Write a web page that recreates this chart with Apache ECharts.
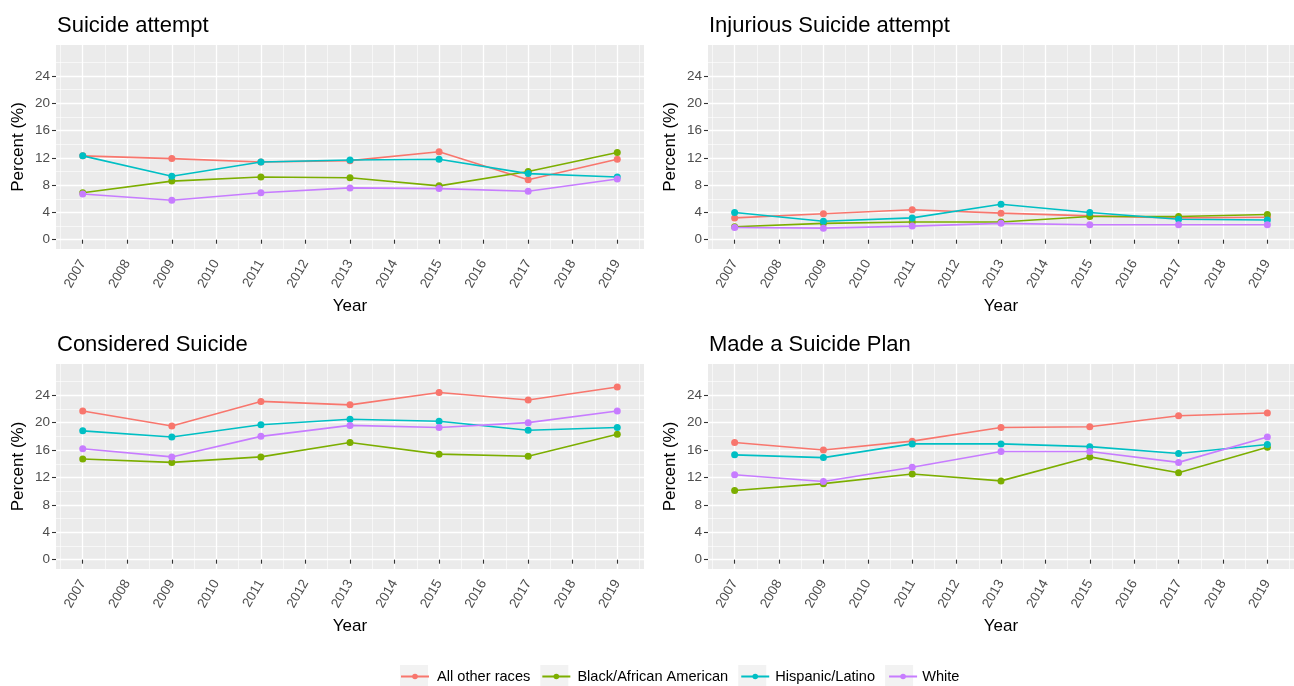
<!DOCTYPE html>
<html><head><meta charset="utf-8">
<script src="https://cdn.jsdelivr.net/npm/echarts@6/dist/echarts.min.js"></script>
<style>html,body{margin:0;padding:0;background:#fff}#c{width:1294px;height:686px}</style>
</head><body><div id="c"></div>
<script>
// ---- data ----
const years = [2007, 2009, 2011, 2013, 2015, 2017, 2019];
const yearTicks = [2007, 2008, 2009, 2010, 2011, 2012, 2013, 2014, 2015, 2016, 2017, 2018, 2019];
const yearMinor = [2006.5, 2007.5, 2008.5, 2009.5, 2010.5, 2011.5, 2012.5, 2013.5, 2014.5, 2015.5, 2016.5, 2017.5, 2018.5, 2019.5];
const percentTicks = [0, 4, 8, 12, 16, 20, 24];
const percentMinor = [2, 6, 10, 14, 18, 22, 26];
const groups = ['All other races', 'Black/African American', 'Hispanic/Latino', 'White'];
const colors = ['#F8766D', '#7CAE00', '#00BFC4', '#C77CFF'];
const panelTitles = ['Suicide attempt', 'Injurious Suicide attempt', 'Considered Suicide', 'Made a Suicide Plan'];

const attemptOther    = [12.3, 11.9, 11.4, 11.6, 12.9, 8.8, 11.8];
const attemptBlack    = [6.9, 8.6, 9.2, 9.1, 7.9, 10.0, 12.8];
const attemptHispanic = [12.3, 9.3, 11.4, 11.7, 11.8, 9.7, 9.2];
const attemptWhite    = [6.7, 5.8, 6.9, 7.6, 7.5, 7.1, 8.9];

const injuriousOther    = [3.2, 3.8, 4.4, 3.9, 3.5, 3.2, 3.3];
const injuriousBlack    = [1.9, 2.4, 2.6, 2.6, 3.4, 3.4, 3.7];
const injuriousHispanic = [4.0, 2.7, 3.2, 5.2, 4.0, 3.0, 2.9];
const injuriousWhite    = [1.8, 1.7, 2.0, 2.4, 2.2, 2.2, 2.2];

const consideredOther    = [21.7, 19.5, 23.1, 22.6, 24.4, 23.3, 25.2];
const consideredBlack    = [14.7, 14.2, 15.0, 17.1, 15.4, 15.1, 18.3];
const consideredHispanic = [18.8, 17.9, 19.7, 20.5, 20.2, 18.9, 19.3];
const consideredWhite    = [16.2, 15.0, 18.0, 19.6, 19.3, 20.0, 21.7];

const planOther    = [17.1, 16.0, 17.3, 19.3, 19.4, 21.0, 21.4];
const planBlack    = [10.1, 11.1, 12.5, 11.5, 15.0, 12.7, 16.4];
const planHispanic = [15.3, 14.9, 16.9, 16.9, 16.5, 15.5, 16.8];
const planWhite    = [12.4, 11.4, 13.5, 15.8, 15.8, 14.2, 17.9];

const panelData = [
  [attemptOther, attemptBlack, attemptHispanic, attemptWhite],
  [injuriousOther, injuriousBlack, injuriousHispanic, injuriousWhite],
  [consideredOther, consideredBlack, consideredHispanic, consideredWhite],
  [planOther, planBlack, planHispanic, planWhite]
];

// ---- layout ----
const FONT = 'Liberation Sans, Arial, sans-serif';
const grids = [
  {left: 56, top: 45, width: 588, height: 204},
  {left: 708, top: 45, width: 588, height: 204},
  {left: 56, top: 364, width: 588, height: 205},
  {left: 708, top: 364, width: 588, height: 205}
];
const X_MIN = 2006.4, X_MAX = 2019.6, Y_MIN = -1.36, Y_MAX = 28.56;

const xAxes = [], yAxes = [], series = [], titles = [];
grids.forEach((g, p) => {
  xAxes.push({
    type: 'value', gridIndex: p, min: X_MIN, max: X_MAX,
    name: 'Year', nameLocation: 'middle', nameGap: 49,
    nameTextStyle: {fontSize: 17, color: '#000', fontFamily: FONT},
    axisLine: {show: false},
    axisTick: {show: true, length: 4, customValues: yearTicks, lineStyle: {color: '#333', width: 1.1}},
    axisLabel: {show: true, customValues: yearTicks, rotate: 60, margin: 12, fontSize: 13.5, color: '#4D4D4D', fontFamily: FONT, formatter: v => String(v)},
    splitLine: {show: true, lineStyle: {color: '#fff', width: 1.3}},
    minorSplitLine: {show: false}
  });
  xAxes.push({
    type: 'value', gridIndex: p, min: X_MIN, max: X_MAX, position: 'bottom',
    axisLine: {show: false},
    axisTick: {show: false, customValues: yearMinor},
    axisLabel: {show: false, customValues: yearMinor},
    splitLine: {show: true, lineStyle: {color: '#fff', width: 0.6}}
  });
  yAxes.push({
    type: 'value', gridIndex: p, min: Y_MIN, max: Y_MAX,
    name: 'Percent (%)', nameLocation: 'middle', nameGap: 29, nameRotate: 90,
    nameTextStyle: {fontSize: 17, color: '#000', fontFamily: FONT},
    axisLine: {show: false},
    axisTick: {show: true, length: 4, customValues: percentTicks, lineStyle: {color: '#333', width: 1.1}},
    axisLabel: {show: true, customValues: percentTicks, margin: 6, fontSize: 13.5, color: '#4D4D4D', fontFamily: FONT},
    splitLine: {show: true, lineStyle: {color: '#fff', width: 1.3}}
  });
  yAxes.push({
    type: 'value', gridIndex: p, min: Y_MIN, max: Y_MAX, position: 'left',
    axisLine: {show: false},
    axisTick: {show: false, customValues: percentMinor},
    axisLabel: {show: false, customValues: percentMinor},
    splitLine: {show: true, lineStyle: {color: '#fff', width: 0.6}}
  });
  titles.push({
    text: panelTitles[p], left: g.left - 4, top: g.top - 35,
    textStyle: {fontSize: 22, fontWeight: 'normal', color: '#000', fontFamily: FONT}
  });
  groups.forEach((name, k) => {
    series.push({
      type: 'line', name: name,
      xAxisIndex: 2 * p, yAxisIndex: 2 * p,
      data: years.map((yr, i) => [yr, panelData[p][k][i]]),
      color: colors[k],
      symbol: 'circle', symbolSize: 7, showSymbol: true,
      lineStyle: {color: colors[k], width: 1.6},
      itemStyle: {color: colors[k]},
      emphasis: {disabled: true},
      z: 3 + k * 0.01
    });
  });
});

const legendCommon = {
  orient: 'horizontal', left: 395, itemWidth: 28, itemGap: 10,
  data: groups,
  formatter: n => ' ' + n
};

const chart = echarts.init(document.getElementById('c'), null, {renderer: 'canvas'});
chart.setOption({
  animation: false,
  backgroundColor: '#fff',
  title: titles,
  grid: grids.map(g => Object.assign({show: true, backgroundColor: '#EBEBEB', borderWidth: 0}, g)),
  xAxis: xAxes,
  yAxis: yAxes,
  legend: [
    Object.assign({}, legendCommon, {
      top: 660, itemHeight: 23, icon: 'rect',
      itemStyle: {color: '#F2F2F2', borderWidth: 0},
      textStyle: {fontSize: 14.6, color: '#000', fontFamily: FONT}
    }),
    Object.assign({}, legendCommon, {
      top: 664, itemHeight: 7, z: 6,
      textStyle: {fontSize: 14.6, color: 'rgba(0,0,0,0)', fontFamily: FONT}
    })
  ],
  series: series
});
</script></body></html>
